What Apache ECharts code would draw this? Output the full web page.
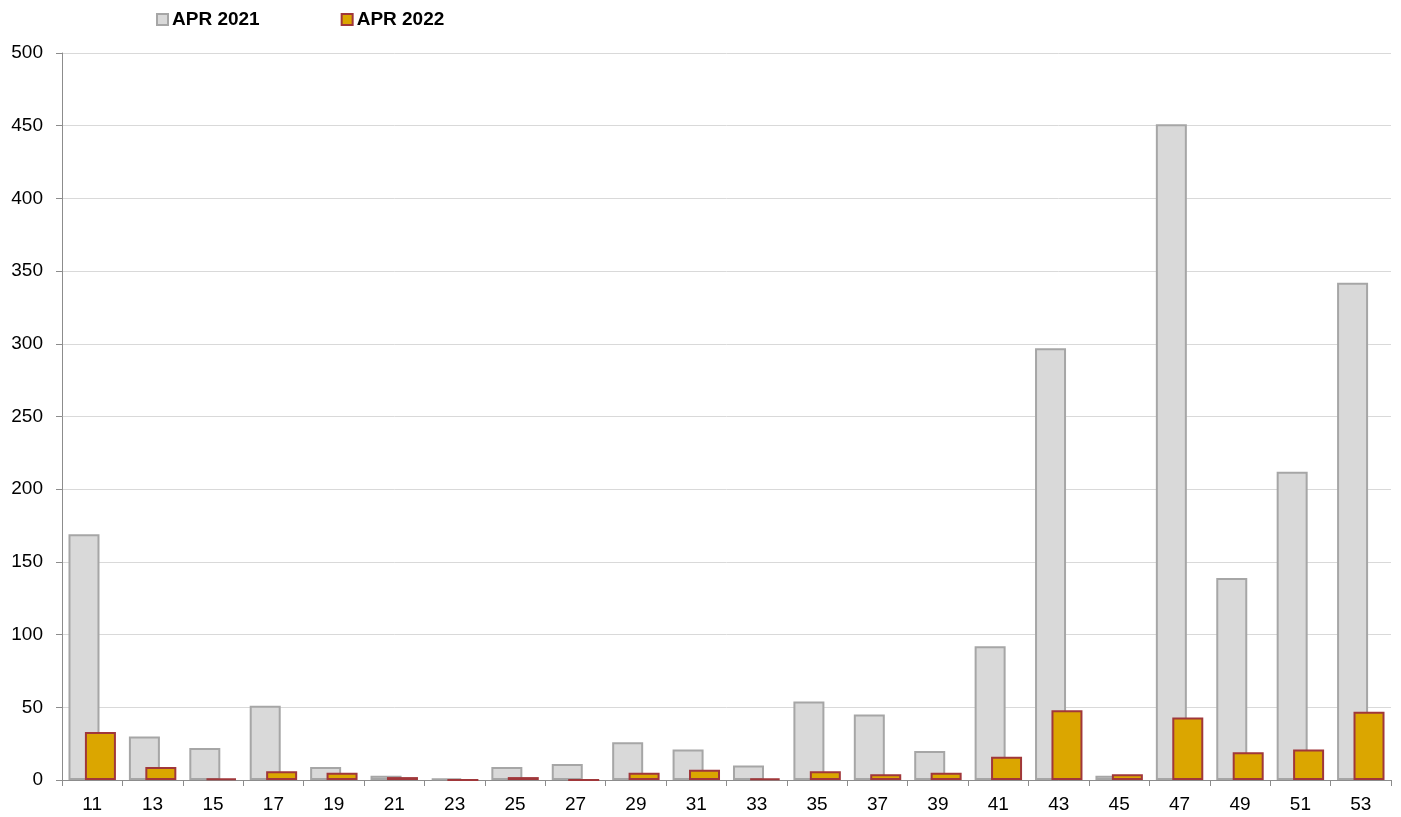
<!DOCTYPE html>
<html><head><meta charset="utf-8">
<script src="https://cdn.jsdelivr.net/npm/echarts@6/dist/echarts.min.js"></script>
<style>html,body{margin:0;padding:0;background:#fff}#c{width:1401px;height:817px}</style>
</head><body><div id="c"></div>
<script>
const categories = ['11','13','15','17','19','21','23','25','27','29','31','33','35','37','39','41','43','45','47','49','51','53'];
const apr2021 = [169,30,22,51,9,3,1,9,11,26,21,10,54,45,20,92,297,3,451,139,212,342];
const apr2022 = [33,9,1,6,5,2,0,2,0,5,7,1,6,4,5,16,48,4,43,19,21,47];
const yTicks = [0,50,100,150,200,250,300,350,400,450,500];

const chart = echarts.init(document.getElementById('c'));
chart.setOption({
  animation:false,
  textStyle:{fontFamily:'Liberation Sans, Arial, sans-serif'},
  legend:{
    left:156, top:10, padding:0, itemWidth:11, itemHeight:11, itemGap:81, icon:'rect',
    textStyle:{fontSize:19, fontWeight:'bold', color:'#000', padding:[0,0,0,-1]},
    data:['APR 2021','APR 2022']
  },
  grid:{left:62, right:10, top:53, bottom:37, containLabel:false},
  xAxis:{
    type:'category', data:categories,
    axisLine:{lineStyle:{color:'#8c8c8c'}},
    axisTick:{show:true, length:6, lineStyle:{color:'#8c8c8c'}},
    axisLabel:{fontSize:19, color:'#000', margin:15}
  },
  yAxis:{
    type:'value', min:0, max:500, interval:50,
    axisLine:{show:true, lineStyle:{color:'#8c8c8c'}},
    axisTick:{show:true, length:6, lineStyle:{color:'#8c8c8c'}},
    axisLabel:{fontSize:19, color:'#000', margin:19,
      formatter:function(v){return yTicks.indexOf(v)>=0?String(v):'';}},
    splitLine:{lineStyle:{color:'#d9d9d9'}}
  },
  series:[
    {name:'APR 2021', type:'bar', data:apr2021, barWidth:31, barGap:'-47%',
     itemStyle:{color:'#d9d9d9', borderColor:'#a6a6a6', borderWidth:2}},
    {name:'APR 2022', type:'bar', data:apr2022, barWidth:31,
     itemStyle:{color:'#dba600', borderColor:'#a0373a', borderWidth:2}}
  ]
});
</script></body></html>
